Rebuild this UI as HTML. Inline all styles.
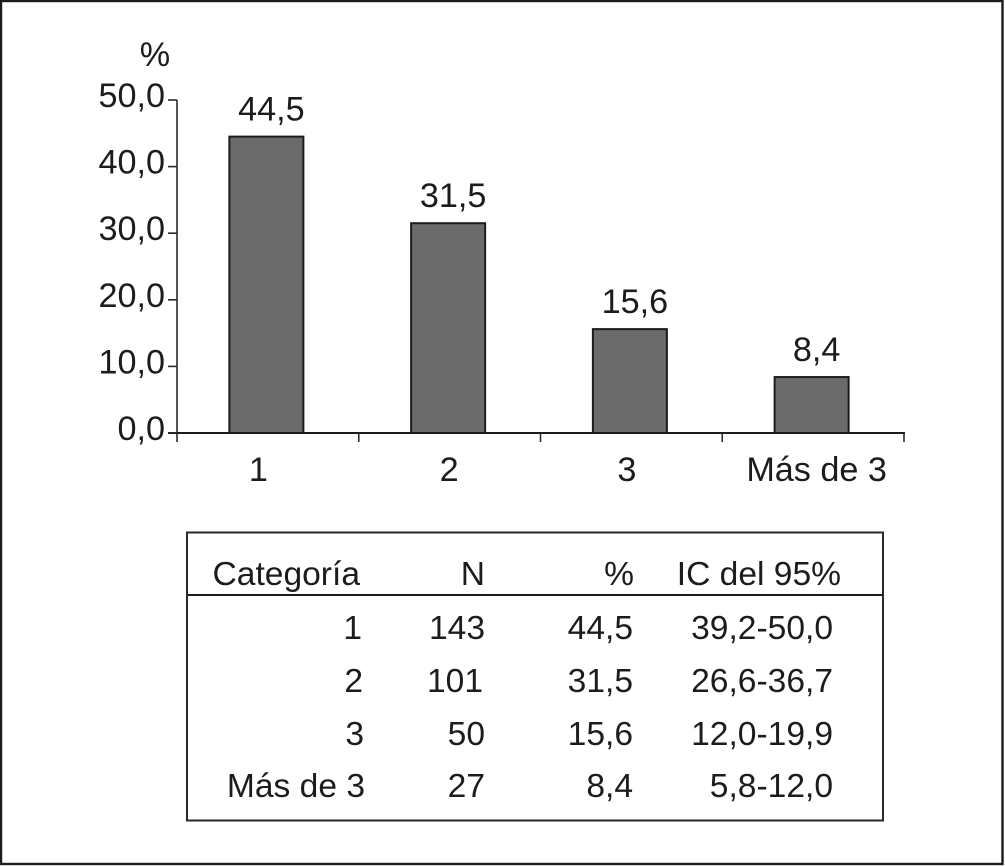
<!DOCTYPE html>
<html lang="es">
<head>
<meta charset="utf-8">
<title>Distribución por categoría</title>
<style>
html,body{margin:0;padding:0;background:#fff;width:1005px;height:866px;overflow:hidden}
svg{display:block}
text{font-family:"Liberation Sans",sans-serif;font-size:34.2px;fill:#1c1c1c}
.t{font-size:33.6px}
.end{text-anchor:end}
</style>
</head>
<body>
<svg id="figure" width="1005" height="866" viewBox="0 0 1005 866" xmlns="http://www.w3.org/2000/svg">
  <rect x="1" y="1" width="1001.5" height="863" fill="#fff" stroke="#1c1c1c" stroke-width="2.4"/>
  <text x="155" y="66" text-anchor="middle">%</text>
  <g id="chart"></g>

  <g>
    <rect x="187" y="532.5" width="696" height="288" fill="none" stroke="#2a2a2a" stroke-width="2"/>
    <line x1="187" x2="883" y1="595" y2="595" stroke="#1c1c1c" stroke-width="2"/>

    <text class="t end" x="360" y="585">Categoría</text>
    <text class="t end" x="485" y="585">N</text>
    <text class="t end" x="634" y="585">%</text>
    <text class="t end" x="841" y="585">IC del 95%</text>

    <text class="t end" x="362" y="639">1</text>
    <text class="t end" x="485" y="639">143</text>
    <text class="t end" x="633" y="639">44,5</text>
    <text class="t end" x="833" y="639">39,2-50,0</text>

    <text class="t end" x="363" y="692">2</text>
    <text class="t end" x="483" y="692">101</text>
    <text class="t end" x="633" y="692">31,5</text>
    <text class="t end" x="833" y="692">26,6-36,7</text>

    <text class="t end" x="364" y="745">3</text>
    <text class="t end" x="485" y="745">50</text>
    <text class="t end" x="633" y="745">15,6</text>
    <text class="t end" x="833" y="745">12,0-19,9</text>

    <text class="t end" x="365" y="797">Más de 3</text>
    <text class="t end" x="485" y="797">27</text>
    <text class="t end" x="633" y="797">8,4</text>
    <text class="t end" x="833" y="797">5,8-12,0</text>
  </g>
</svg>
<script>
const categories = ["1", "2", "3", "Más de 3"];
const seriesValues = [44.5, 31.5, 15.6, 8.4];
const printedValues = ["44,5", "31,5", "15,6", "8,4"];
const yTickValues = [0, 10, 20, 30, 40, 50];
const yTickLabels = ["0,0", "10,0", "20,0", "30,0", "40,0", "50,0"];

const NS = "http://www.w3.org/2000/svg";
const chart = document.getElementById("chart");
const plot = { left: 177, right: 904, top: 100, bottom: 433 };
const yDomainMax = 50;
const barWidth = 74;
const bandWidth = (plot.right - plot.left) / categories.length;

function yScale(v) {
  return plot.bottom - (v / yDomainMax) * (plot.bottom - plot.top);
}
function xCenter(i) {
  return plot.left + bandWidth * (i + 0.5) - 1.5;
}
function categoryLabelX(i) {
  const centre = xCenter(i);
  if (i === 0) return centre - 8;
  if (i === 2) return centre - 3;
  if (i === 3) return centre + 5;
  return centre + 1;
}
function make(tag, attrs, text) {
  const el = document.createElementNS(NS, tag);
  for (const k in attrs) el.setAttribute(k, attrs[k]);
  if (text !== undefined) el.textContent = text;
  chart.appendChild(el);
  return el;
}

seriesValues.forEach(function (v, i) {
  const top = yScale(v);
  const bar = make("rect", {
    x: xCenter(i) - barWidth / 2,
    y: top,
    width: barWidth,
    height: plot.bottom - top,
    fill: "#6b6b6b",
    stroke: "#1c1c1c",
    "stroke-width": 2
  });
  
  

  const label = make("text", {
    x: xCenter(i) + 5,
    y: top - 16,
    "text-anchor": "middle"
  }, printedValues[i]);
  
  
});

const yAxis = make("line", {
  x1: plot.left, x2: plot.left,
  y1: plot.top, y2: plot.bottom + 9,
  stroke: "#2a2a2a", "stroke-width": 1.6
});



const xAxis = make("line", {
  x1: plot.left - 9, x2: plot.right + 1,
  y1: plot.bottom, y2: plot.bottom,
  stroke: "#1c1c1c", "stroke-width": 2
});



yTickValues.forEach(function (v, i) {
  const y = yScale(v);
  const tick = make("line", {
    x1: plot.left - 9, x2: plot.left,
    y1: y, y2: y,
    stroke: "#2a2a2a", "stroke-width": 1.6
  });
  
  

  const label = make("text", {
    x: plot.left - 12,
    y: y + 7,
    "text-anchor": "end"
  }, yTickLabels[i]);
  
  
});

for (let i = 1; i <= categories.length; i++) {
  const x = plot.left + bandWidth * i;
  const tick = make("line", {
    x1: x, x2: x,
    y1: plot.bottom, y2: plot.bottom + 9,
    stroke: "#2a2a2a", "stroke-width": 1.6
  });
  
  
}

categories.forEach(function (c, i) {
  const label = make("text", {
    x: categoryLabelX(i),
    y: 481,
    "text-anchor": "middle"
  }, c);
  
  
});
</script>
</body>
</html>
